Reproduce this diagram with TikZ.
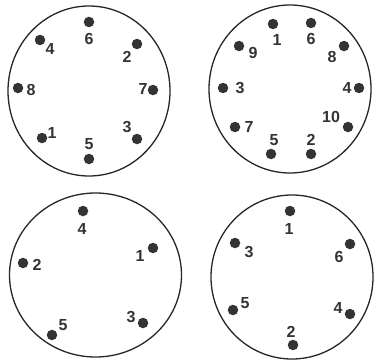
\documentclass[tikz,border=0pt]{standalone}
\usepackage{fontspec}
\setmainfont{Liberation Sans}
\begin{document}
\begin{tikzpicture}[x=1pt,y=-1pt,
  rim/.style={draw=black!85,line width=1.3pt},
  pin/.style={circle,fill=black!80,inner sep=0pt,minimum size=10.5pt},
  num/.style={inner sep=0pt,font=\fontsize{16}{16}\selectfont\bfseries,text=black!80}]
\useasboundingbox (0,0) rectangle (374,361);
% circle 1
\draw[rim] (89,91) ellipse [x radius=81, y radius=85];
\node[pin] (a6) at (89,22) {}; \node[num] (la6) at (89,39) {6};
\node[pin] (a4) at (40,40) {}; \node[num] (la4) at (50,49) {4};
\node[pin] (a2) at (137,44) {}; \node[num] (la2) at (127,57) {2};
\node[pin] (a8) at (18,88) {}; \node[num] (la8) at (31,90) {8};
\node[pin] (a7) at (153,90) {}; \node[num] (la7) at (143,89) {7};
\node[pin] (a1) at (42,138) {}; \node[num] (la1) at (52,133) {1};
\node[pin] (a3) at (137,139) {}; \node[num] (la3) at (127,127) {3};
\node[pin] (a5) at (89,159) {}; \node[num] (la5) at (89,144) {5};
% circle 2
\draw[rim] (290,89) ellipse [x radius=81, y radius=84];
\node[pin] (b1) at (273,24) {}; \node[num] (lb1) at (277,40) {1};
\node[pin] (b6) at (311,23) {}; \node[num] (lb6) at (311,39) {6};
\node[pin] (b9) at (239,46) {}; \node[num] (lb9) at (253,53) {9};
\node[pin] (b8) at (344,46) {}; \node[num] (lb8) at (332,57) {8};
\node[pin] (b3) at (223,88) {}; \node[num] (lb3) at (240,88) {3};
\node[pin] (b4) at (359,88) {}; \node[num] (lb4) at (347,88) {4};
\node[pin] (b7) at (235,127) {}; \node[num] (lb7) at (249,127) {7};
\node[pin] (b10) at (348,127) {}; \node[num] (lb10) at (331,117) {10};
\node[pin] (b5) at (271,154) {}; \node[num] (lb5) at (274,140) {5};
\node[pin] (b2) at (311,154) {}; \node[num] (lb2) at (311,140) {2};
% circle 3
\draw[rim] (95.5,275) ellipse [x radius=86, y radius=82];
\node[pin] (c4) at (83,211) {}; \node[num] (lc4) at (82,229) {4};
\node[pin] (c1) at (153,248) {}; \node[num] (lc1) at (140,256) {1};
\node[pin] (c2) at (23,263) {}; \node[num] (lc2) at (37,265) {2};
\node[pin] (c3) at (143,323) {}; \node[num] (lc3) at (131,317) {3};
\node[pin] (c5) at (52,335) {}; \node[num] (lc5) at (63,325) {5};
% circle 4
\draw[rim] (292,277) ellipse [x radius=81, y radius=82];
\node[pin] (d1) at (290,211) {}; \node[num] (ld1) at (289,229) {1};
\node[pin] (d3) at (235,243) {}; \node[num] (ld3) at (249,252) {3};
\node[pin] (d6) at (350,244) {}; \node[num] (ld6) at (339,257) {6};
\node[pin] (d5) at (233,310) {}; \node[num] (ld5) at (245,303) {5};
\node[pin] (d4) at (350,314) {}; \node[num] (ld4) at (338,308) {4};
\node[pin] (d2) at (293,345) {}; \node[num] (ld2) at (291,332) {2};
\end{tikzpicture}
\end{document}
